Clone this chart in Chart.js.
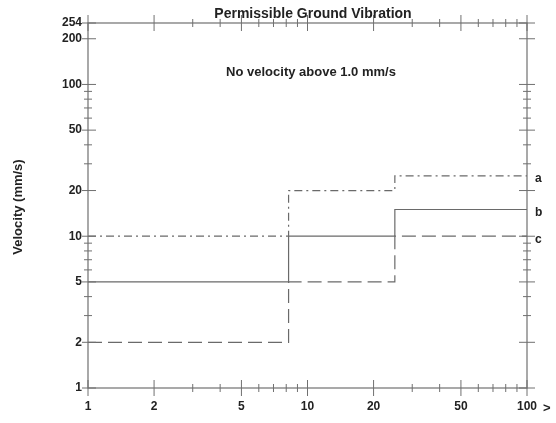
<!DOCTYPE html>
<html>
<head>
<meta charset="utf-8">
<script src="https://cdn.jsdelivr.net/npm/chart.js@4/dist/chart.umd.min.js"></script>
<style>
  html, body { margin: 0; padding: 0; background: #fff; }
  #wrap { width: 556px; height: 423px; position: relative; }
</style>
</head>
<body>
<div id="wrap"><canvas id="c"></canvas></div>
<script>
// step edges (frequency) and velocity levels for each curve
const xSteps = [1, 8.2, 25, 100];
const seriesA = [10, 20, 25, 25];
const seriesB = [5, 10, 15, 15];
const seriesC = [2, 5, 10, 10];
const seriesNames = ['a', 'b', 'c'];

const xTicks = [1, 2, 5, 10, 20, 50, 100];
const xMinor = [3, 4, 6, 7, 8, 9, 30, 40, 60, 70, 80, 90];
const yTicks = [1, 2, 5, 10, 20, 50, 100, 200, 254];
const yMinor = [3, 4, 6, 7, 8, 9, 30, 40, 60, 70, 80, 90];

const ink = '#222';
const lineCol = '#6a6a6a';
const axisCol = '#707070';

// each level holds from its own x to the next step edge
const toPts = (ys) => xSteps.map((x, i) => ({ x: x, y: ys[Math.max(0, i - 1)] }));

const frame = {
    id: 'frame',
    afterDraw(chart) {
        const { ctx, chartArea: a, scales } = chart;
        const xs = scales.x, ys = scales.y;
        ctx.save();
        ctx.strokeStyle = axisCol;
        ctx.lineWidth = 1.2;
        ctx.strokeRect(a.left, a.top, a.right - a.left, a.bottom - a.top);

        const tick = (x1, y1, x2, y2) => {
            ctx.beginPath(); ctx.moveTo(x1, y1); ctx.lineTo(x2, y2); ctx.stroke();
        };
        ctx.lineWidth = 1;
        xTicks.concat(xMinor).forEach(v => {
            const len = xTicks.includes(v) ? 8 : 4;
            const px = xs.getPixelForValue(v);
            tick(px, a.bottom - len, px, a.bottom + len);
            tick(px, a.top - len, px, a.top + len);
        });
        yTicks.concat(yMinor).forEach(v => {
            const len = yTicks.includes(v) ? 8 : 4;
            const py = ys.getPixelForValue(v);
            tick(a.left - (len === 8 ? 6 : len), py, a.left + len, py);
            tick(a.right - len, py, a.right + len, py);
        });

        ctx.fillStyle = ink;
        ctx.textAlign = 'center';
        ctx.textBaseline = 'middle';
        ctx.font = 'bold 14px "Liberation Sans", Arial, sans-serif';
        ctx.fillText('Permissible Ground Vibration', 313, 14);
        ctx.font = 'bold 13px "Liberation Sans", Arial, sans-serif';
        ctx.fillText('No velocity above 1.0 mm/s', 311, 72);

        ctx.font = 'bold 12px "Liberation Sans", Arial, sans-serif';
        ctx.textAlign = 'left';
        [seriesA, seriesB, seriesC].forEach((s, i) => {
            ctx.fillText(seriesNames[i], a.right + 8, ys.getPixelForValue(s[s.length - 1]) + 3);
        });
        ctx.font = 'bold 13px "Liberation Sans", Arial, sans-serif';
        ctx.fillText('>', 543, 408);

        ctx.translate(18, 207);
        ctx.rotate(-Math.PI / 2);
        ctx.textAlign = 'center';
        ctx.fillText('Velocity (mm/s)', 0, 0);
        ctx.restore();
    }
};

const common = { borderColor: lineCol, borderWidth: 1.2, pointRadius: 0, stepped: 'after', fill: false };

new Chart(document.getElementById('c'), {
    type: 'line',
    data: {
        datasets: [
            Object.assign({ label: 'a', data: toPts(seriesA), borderDash: [8, 4, 2, 4] }, common),
            Object.assign({ label: 'b', data: toPts(seriesB) }, common),
            Object.assign({ label: 'c', data: toPts(seriesC), borderDash: [14, 6] }, common)
        ]
    },
    options: {
        responsive: true,
        maintainAspectRatio: false,
        animation: false,
        layout: { padding: { left: 0, top: 23, right: 29, bottom: 0 } },
        plugins: { legend: { display: false }, tooltip: { enabled: false } },
        scales: {
            x: {
                type: 'logarithmic',
                min: 1, max: 100,
                border: { display: false },
                grid: { display: false, drawTicks: false },
                afterBuildTicks: s => { s.ticks = xTicks.map(v => ({ value: v })); },
                afterFit: s => { s.height = 35; },
                ticks: {
                    autoSkip: false, maxRotation: 0, padding: 11, color: ink,
                    font: { family: '"Liberation Sans", Arial, sans-serif', size: 12, weight: 'bold' },
                    callback: v => String(v)
                }
            },
            y: {
                type: 'logarithmic',
                min: 1, max: 254,
                border: { display: false },
                grid: { display: false, drawTicks: false },
                afterBuildTicks: s => { s.ticks = yTicks.map(v => ({ value: v })); },
                afterFit: s => { s.width = 88; },
                ticks: {
                    autoSkip: false, padding: 6, color: ink,
                    font: { family: '"Liberation Sans", Arial, sans-serif', size: 12, weight: 'bold' },
                    callback: v => String(v)
                }
            }
        }
    },
    plugins: [frame]
});
</script>
</body>
</html>
